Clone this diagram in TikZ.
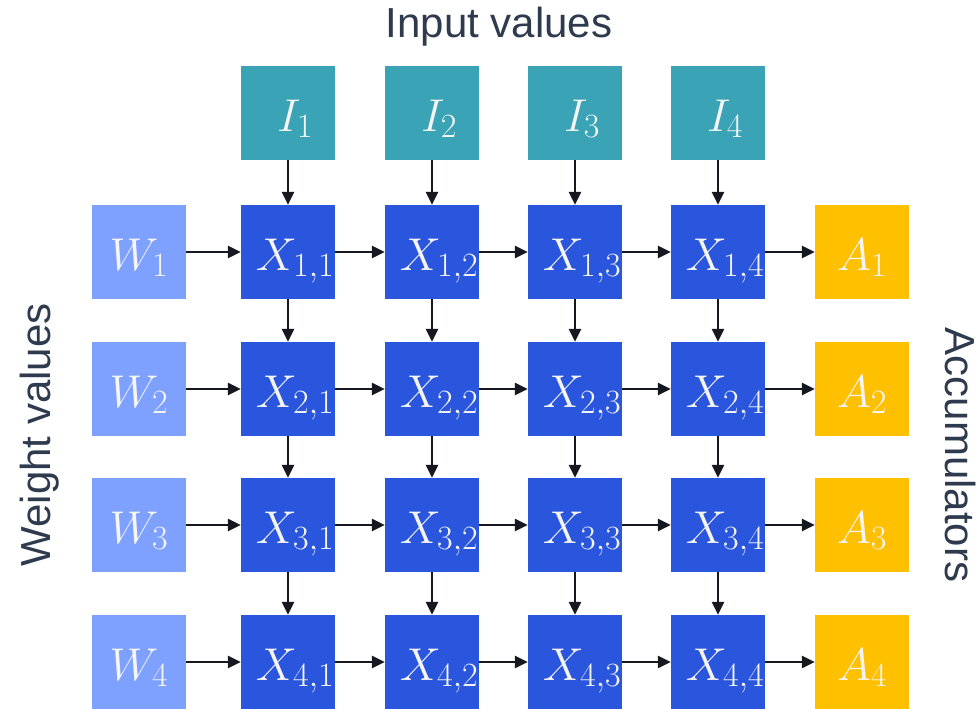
\RequirePackage{fix-cm}
\documentclass[tikz,border=0pt]{standalone}
\usepackage{fontspec}
\setsansfont{Liberation Sans}
\usetikzlibrary{arrows.meta}
\DeclareMathSizes{46}{46}{34}{24}
\definecolor{wcol}{HTML}{7EA0FF}
\definecolor{xcol}{HTML}{2A55DD}
\definecolor{icol}{HTML}{3AA3B5}
\definecolor{acol}{HTML}{FFC000}
\definecolor{lblcol}{HTML}{2E3A4E}
\definecolor{arrcol}{HTML}{15181F}
\newcommand\shiftedtxt[2]{\hspace*{#1}#2}
\begin{document}
\begin{tikzpicture}[x=1pt,y=1pt,
  cell/.style={minimum width=94pt,minimum height=94pt,inner sep=0pt,text height=40pt,text depth=4pt,
    text=white!96!black,font=\fontsize{46}{50}\selectfont},
  wbox/.style={cell,fill=wcol},
  xbox/.style={cell,fill=xcol},
  ibox/.style={cell,fill=icol},
  abox/.style={cell,fill=acol},
  lbl/.style={text=lblcol,font=\sffamily\fontsize{42}{46}\selectfont,inner sep=0pt,anchor=base},
  conn/.style={draw=arrcol,line width=2.6pt,-{Triangle[length=13pt,width=12pt]}}]
\useasboundingbox (0,0) rectangle (977,-709);
% input boxes
\foreach \j/\x in {1/288,2/432,3/575,4/718}{
  \node[ibox] (I\j) at (\x,-113) {\shiftedtxt{14pt}{$I_{\j}$}};
}
\foreach \i/\y in {1/252,2/389,3/525,4/662}{
  \node[wbox] (W\i) at (139,-\y) {$W_{\i}$};
  \node[abox] (A\i) at (862,-\y) {$A_{\i}$};
  \foreach \j/\x in {1/288,2/432,3/575,4/718}{
    \node[xbox] (X\i\j) at (\x,-\y) {\shiftedtxt{14pt}{$X_{\i,\j}$}};
  }
}
% horizontal arrows
\foreach \i in {1,2,3,4}{
  \draw[conn] (W\i) -- (X\i1);
  \draw[conn] (X\i1) -- (X\i2);
  \draw[conn] (X\i2) -- (X\i3);
  \draw[conn] (X\i3) -- (X\i4);
  \draw[conn] (X\i4) -- (A\i);
}
% vertical arrows
\foreach \j in {1,2,3,4}{
  \draw[conn] (I\j) -- (X1\j);
  \draw[conn] (X1\j) -- (X2\j);
  \draw[conn] (X2\j) -- (X3\j);
  \draw[conn] (X3\j) -- (X4\j);
}
\node[lbl] (tin) at (499,-38) {Input values};
\node[lbl,rotate=90] (twt) at (50,-435) {Weight values};
\node[lbl,rotate=-90] (tac) at (945,-455) {Accumulators};
\end{tikzpicture}
\end{document}
